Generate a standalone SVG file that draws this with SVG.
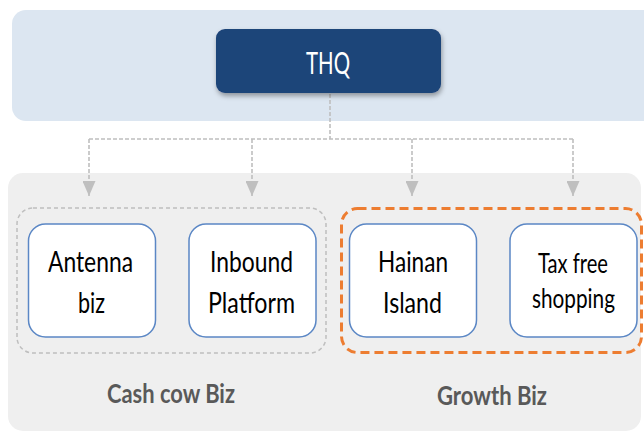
<svg xmlns="http://www.w3.org/2000/svg" width="644" height="432" viewBox="0 0 644 432">
  <defs>
    <filter id="shadow" x="-10%" y="-20%" width="120%" height="150%">
      <feDropShadow dx="1" dy="3" stdDeviation="2.5" flood-color="#000" flood-opacity="0.35"/>
    </filter>
    <marker id="arrow" viewBox="0 0 15 13" refX="15" refY="6.5" markerWidth="15" markerHeight="13" markerUnits="userSpaceOnUse" orient="auto">
      <path d="M0,0 L15,6.5 L0,13 Z" fill="#bfbfbf"/>
    </marker>
    <style>
      .band-top { fill: #dce6f1; }
      .band-bottom { fill: #efefef; }
      .hq { fill: #1f4479; }
      .unit { fill: #ffffff; stroke: #5b87c5; stroke-width: 1.5; }
      .grp-cash { fill: none; stroke: #bfbfbf; stroke-width: 1.5; stroke-dasharray: 4 3; }
      .grp-growth { fill: none; stroke: #ed7d31; stroke-width: 3; stroke-dasharray: 9 5; }
      .link { fill: none; stroke: #bfbfbf; stroke-width: 1.6; stroke-dasharray: 4 2; }
      .t { font-family: Lato, "Open Sans", "Liberation Sans", sans-serif; text-anchor: middle; }
      .t-hq { font-size: 30px; fill: #ffffff; }
      .t-unit { font-size: 28px; fill: #000000; }
      .t-small { font-size: 26px; fill: #000000; }
      .t-grp { font-size: 27px; font-weight: bold; fill: #595959; }
    </style>
  </defs>

  <!-- background bands -->
  <rect class="band-top" x="12" y="10" width="646" height="111" rx="14"/>
  <rect class="band-bottom" x="8" y="173" width="633" height="258" rx="15"/>

  <!-- group outlines -->
  <rect id="cashcow-group" class="grp-cash" x="17" y="208" width="309" height="145" rx="16"/>
  <rect id="growth-group" class="grp-growth" x="341.5" y="208.5" width="300" height="144" rx="16"/>

  <!-- connectors -->
  <g id="connectors">
    <path class="link" d="M330,94 V139"/>
    <path class="link" d="M89,139 H573"/>
    <path class="link" d="M89,139 V196" marker-end="url(#arrow)"/>
    <path class="link" d="M252,139 V196" marker-end="url(#arrow)"/>
    <path class="link" d="M412,139 V196" marker-end="url(#arrow)"/>
    <path class="link" d="M573,139 V196" marker-end="url(#arrow)"/>
  </g>

  <g id="thq">
    <rect class="hq" x="216" y="29" width="225" height="64" rx="9" filter="url(#shadow)"/>
    <text class="t t-hq" x="328" y="74" textLength="44" lengthAdjust="spacingAndGlyphs">THQ</text>
  </g>

  <g id="antenna">
    <rect class="unit" x="28.5" y="224" width="127" height="113" rx="17"/>
    <text class="t t-unit" x="90.5" y="272" textLength="85" lengthAdjust="spacingAndGlyphs">Antenna</text>
    <text class="t t-unit" x="91.5" y="313" textLength="27" lengthAdjust="spacingAndGlyphs">biz</text>
  </g>

  <g id="inbound">
    <rect class="unit" x="189" y="224" width="127" height="113" rx="17"/>
    <text class="t t-unit" x="251.5" y="272" textLength="83" lengthAdjust="spacingAndGlyphs">Inbound</text>
    <text class="t t-unit" x="251.5" y="313" textLength="87" lengthAdjust="spacingAndGlyphs">Platform</text>
  </g>

  <g id="hainan">
    <rect class="unit" x="349.5" y="224" width="127" height="113" rx="17"/>
    <text class="t t-unit" x="413" y="272" textLength="70" lengthAdjust="spacingAndGlyphs">Hainan</text>
    <text class="t t-unit" x="412.5" y="313" textLength="59" lengthAdjust="spacingAndGlyphs">Island</text>
  </g>

  <g id="taxfree">
    <rect class="unit" x="510" y="224" width="127" height="113" rx="17"/>
    <text class="t t-small" x="573" y="273" textLength="70" lengthAdjust="spacingAndGlyphs">Tax free</text>
    <text class="t t-small" x="573.5" y="308" textLength="83" lengthAdjust="spacingAndGlyphs">shopping</text>
  </g>

  <g id="labels">
    <text class="t t-grp" x="171" y="403" textLength="128" lengthAdjust="spacingAndGlyphs">Cash cow Biz</text>
    <text class="t t-grp" x="492" y="405" textLength="110" lengthAdjust="spacingAndGlyphs">Growth Biz</text>
  </g>
</svg>
